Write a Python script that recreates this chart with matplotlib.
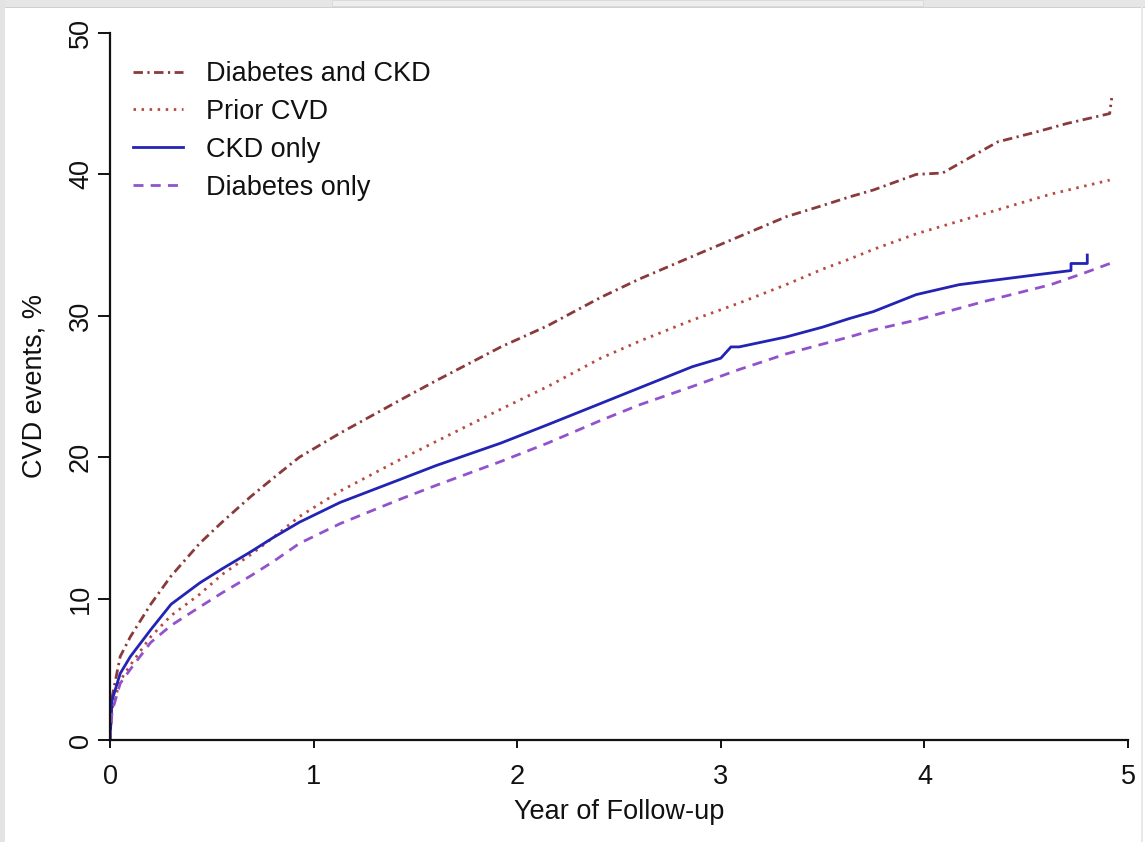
import matplotlib
matplotlib.use("Agg")
import matplotlib.pyplot as plt
from matplotlib.patches import Rectangle

plt.rcParams["font.family"] = ["Liberation Sans", "DejaVu Sans"]

# Cumulative CVD events (%) by year of follow-up
t_dm_ckd = [0, 0.01, 0.05, 0.1, 0.2, 0.3, 0.44, 0.55, 0.69, 0.8, 0.93, 1.13, 1.42, 1.6,
            1.92, 2.15, 2.41, 2.6, 2.86, 3.09, 3.32, 3.5, 3.63, 3.75, 3.96, 4.09, 4.2,
            4.36, 4.55, 4.70, 4.91, 4.92]
v_dm_ckd = [0, 3.0, 5.9, 7.3, 9.6, 11.6, 13.9, 15.4, 17.2, 18.5, 20.0, 21.7, 24.0, 25.4,
            27.8, 29.3, 31.3, 32.6, 34.2, 35.6, 37.0, 37.8, 38.4, 38.9, 40.0, 40.1, 41.0,
            42.3, 43.0, 43.6, 44.3, 45.4]

t_prior = [0, 0.01, 0.05, 0.1, 0.2, 0.3, 0.44, 0.55, 0.69, 0.8, 0.93, 1.13, 1.42, 1.6,
           1.92, 2.15, 2.41, 2.6, 2.86, 3.09, 3.32, 3.5, 3.63, 3.75, 3.96, 4.29, 4.62, 4.91]
v_prior = [0, 2.2, 4.2, 5.3, 7.3, 8.8, 10.3, 11.7, 13.1, 14.3, 15.8, 17.6, 19.8, 21.1,
           23.4, 25.0, 27.0, 28.2, 29.7, 30.9, 32.2, 33.3, 34.0, 34.7, 35.8, 37.2, 38.6, 39.6]

t_ckd = [0, 0.01, 0.05, 0.1, 0.2, 0.3, 0.44, 0.55, 0.69, 0.8, 0.93, 1.13, 1.42, 1.6,
         1.92, 2.15, 2.41, 2.6, 2.86, 3.0, 3.05, 3.09, 3.32, 3.5, 3.63, 3.75, 3.96, 4.17,
         4.55, 4.72, 4.72, 4.80, 4.80]
v_ckd = [0, 2.8, 4.7, 5.9, 7.8, 9.6, 11.1, 12.1, 13.3, 14.3, 15.4, 16.8, 18.4, 19.4,
         21.0, 22.3, 23.8, 24.9, 26.4, 27.0, 27.8, 27.8, 28.5, 29.2, 29.8, 30.3, 31.5, 32.2,
         32.9, 33.2, 33.7, 33.7, 34.3]

t_dm = [0, 0.01, 0.05, 0.1, 0.2, 0.3, 0.44, 0.55, 0.69, 0.8, 0.93, 1.13, 1.42, 1.6,
        1.92, 2.15, 2.41, 2.6, 2.86, 3.09, 3.32, 3.5, 3.63, 3.75, 3.96, 4.29, 4.62, 4.78, 4.93]
v_dm = [0, 2.0, 4.0, 5.0, 6.9, 8.1, 9.4, 10.4, 11.6, 12.6, 13.9, 15.3, 17.0, 18.0,
        19.7, 21.0, 22.6, 23.7, 25.0, 26.2, 27.3, 28.0, 28.5, 29.0, 29.7, 31.0, 32.2, 33.0, 33.8]

labels = ["Diabetes and CKD", "Prior CVD", "CKD only", "Diabetes only"]
x_ticks = [0, 1, 2, 3, 4, 5]
y_ticks = [0, 10, 20, 30, 40, 50]

W, H = 1145, 842
fig = plt.figure(figsize=(W / 100, H / 100), dpi=100)
fig.patch.set_facecolor("white")

# window frame around the plot
fig.patches.append(Rectangle((0, 1 - 7 / H), 1, 7 / H, transform=fig.transFigure,
                             facecolor="#e6e6e6", edgecolor="none", zorder=0))
fig.patches.append(Rectangle((332 / W, 1 - 6 / H), (923 - 332) / W, 6 / H,
                             transform=fig.transFigure, facecolor="#eeeeee",
                             edgecolor="#d8d8d8", linewidth=0.6, zorder=0))
fig.patches.append(Rectangle((0, 1 - 8 / H), 1, 1.5 / H, transform=fig.transFigure,
                             facecolor="#d0d0d0", edgecolor="none", zorder=0))
fig.patches.append(Rectangle((0, 0), 5 / W, 1, transform=fig.transFigure,
                             facecolor="#e3e3e3", edgecolor="none", zorder=0))
fig.patches.append(Rectangle((1141 / W, 0), 1.5 / W, 1, transform=fig.transFigure,
                             facecolor="#e8e8e8", edgecolor="none", zorder=0))

ax = fig.add_axes([110 / W, (H - 740) / H, (1128 - 110) / W, (740 - 33) / H])
ax.set_facecolor("none")

lw = 2.0
ax.plot(t_dm_ckd, v_dm_ckd, color="#8a3a3a", lw=lw, dashes=(3.4, 1.6, 0.8, 1.6),
        label=labels[0])
ax.plot(t_prior, v_prior, color="#b84a40", lw=lw, dashes=(0.9, 2.0), label=labels[1])
ax.plot(t_ckd, v_ckd, color="#2323b4", lw=lw, label=labels[2])
ax.plot(t_dm, v_dm, color="#9352cc", lw=lw, dashes=(3.6, 2.6), label=labels[3])

ax.set_xlim(0, 5)
ax.set_ylim(0, 50)
for side in ("top", "right"):
    ax.spines[side].set_visible(False)
for side in ("left", "bottom"):
    ax.spines[side].set_linewidth(1.6)
    ax.spines[side].set_color("#111111")

fs = 19.5
ax.set_xticks(x_ticks)
ax.set_yticks(y_ticks)
ax.set_xticklabels([str(v) for v in x_ticks])
ax.set_yticklabels([str(v) for v in y_ticks], rotation=90, va="center")
ax.tick_params(axis="x", direction="out", length=6, width=1.4, pad=11,
               labelsize=fs, colors="#111111")
ax.tick_params(axis="y", direction="out", length=9, width=1.4, pad=2.5,
               labelsize=fs, colors="#111111")

ax.set_xlabel("Year of Follow-up", fontsize=fs, color="#111111", va="center")
ax.xaxis.set_label_coords(0.5, (740 - 812) / (740 - 33))
ax.set_ylabel("CVD events, %", fontsize=fs, color="#111111", va="center")
ax.yaxis.set_label_coords((35 - 110) / (1128 - 110), 0.5)

leg = ax.legend(loc="upper left", bbox_to_anchor=(133 / W, 1 - 61 / H),
                bbox_transform=fig.transFigure, frameon=False, fontsize=fs,
                handlelength=1.85, handletextpad=0.85, labelspacing=0.44,
                borderpad=0, borderaxespad=0)
for txt in leg.get_texts():
    txt.set_color("#111111")

fig.savefig("out.png", dpi=100)
